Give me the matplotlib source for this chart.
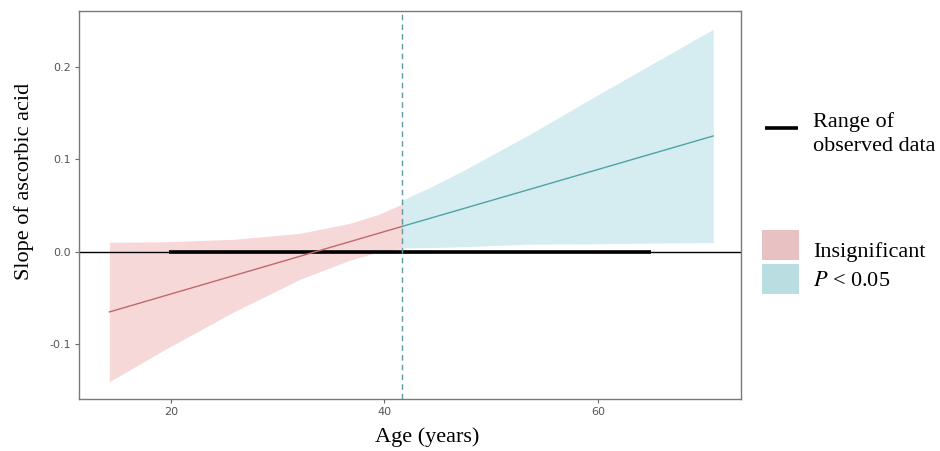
import matplotlib
matplotlib.use('Agg')
import matplotlib.pyplot as plt
from matplotlib.lines import Line2D
from matplotlib.patches import Rectangle

plt.rcParams['mathtext.fontset'] = 'stix'

# slope estimate (one straight line, split at the J-N point)
line_age = [14.25, 41.7, 70.8]
line_slope = [-0.0653, 0.0275, 0.1254]
jn_point = 41.7

# confidence band, insignificant part
red_age = [14.25, 19.6, 25.9, 32.1, 36.8, 39.3, 41.7]
red_upper = [0.0102, 0.0108, 0.0134, 0.0199, 0.0308, 0.0398, 0.0517]
red_lower = [-0.1408, -0.105, -0.0652, -0.0299, -0.0090, -0.0010, 0.0033]

# confidence band, P < 0.05 part
teal_age = [41.7, 44.1, 47.2, 53.5, 59.7, 66.0, 70.8]
teal_upper = [0.056, 0.0687, 0.0867, 0.1264, 0.168, 0.2095, 0.241]
teal_lower = [0.004, 0.0045, 0.0053, 0.0082, 0.0086, 0.0095, 0.0098]

# range of observed ages
obs_range = [19.8, 65.0]

xticks = [20, 40, 60]
yticks = [-0.1, 0.0, 0.1, 0.2]

serif = 'Liberation Serif'
W, H = 940, 451

fig = plt.figure(figsize=(9.4, 4.51), dpi=100)
ax = fig.add_axes([79 / W, 1 - 399 / H, (741 - 79) / W, (399 - 11) / H])

ax.fill_between(red_age, red_lower, red_upper, color='#f5d8d7', lw=0)
ax.fill_between(teal_age, teal_lower, teal_upper, color='#d5ecf0', lw=0)

ax.axhline(0, color='black', lw=1.0)
ax.plot(obs_range, [0, 0], color='black', lw=2.6, solid_capstyle='butt')

ax.plot(line_age[:2], line_slope[:2], color='#c0696c', lw=1.0)
ax.plot(line_age[1:], line_slope[1:], color='#4fa3a8', lw=1.0)
ax.axvline(jn_point, color='#5b9aa6', lw=1.0, ls=(0, (4, 3)))

ax.set_xlim(11.41, 73.4)
ax.set_ylim(-0.1596, 0.2608)
ax.set_xticks(xticks)
ax.set_yticks(yticks)
ax.set_xticklabels([str(t) for t in xticks])
ax.set_yticklabels(['-0.1', '0.0', '0.1', '0.2'])
ax.tick_params(length=3, width=0.8, color='#666666', labelcolor='#555555',
               labelsize=8, pad=3)
for s in ax.spines.values():
    s.set_color('#7a7a7a')
    s.set_linewidth(1.0)

# axis titles
fig.text(427 / W, 1 - 437 / H, 'Age (years)', family=serif, fontsize=16,
         ha='center', va='center')
fig.text(24 / W, 1 - 181 / H, 'Slope of ascorbic acid', family=serif,
         fontsize=16, rotation=90, ha='center', va='center')

# legend: observed range
fig.add_artist(Line2D([765 / W, 798 / W], [1 - 127.5 / H, 1 - 127.5 / H],
                      color='black', lw=2.6, solid_capstyle='butt'))
fig.text(813 / W, 1 - 126.5 / H, 'Range of', family=serif, fontsize=16,
         va='baseline')
fig.text(813 / W, 1 - 151 / H, 'observed data', family=serif, fontsize=16,
         va='baseline')

# legend: significance
fig.add_artist(Rectangle((761.5 / W, 1 - 259.5 / H), 37 / W, 29.5 / H,
                         color='#e8c2c2', lw=0, transform=fig.transFigure))
fig.add_artist(Rectangle((761.5 / W, 1 - 294 / H), 37 / W, 30.5 / H,
                         color='#badde2', lw=0, transform=fig.transFigure))
fig.text(813 / W, 1 - 257 / H, 'Insignificant', family=serif, fontsize=16,
         va='baseline')
fig.text(813 / W, 1 - 285.5 / H, '$\\mathit{P}$ < 0.05', family=serif,
         fontsize=16, va='baseline')

fig.savefig('out.png', dpi=100)
